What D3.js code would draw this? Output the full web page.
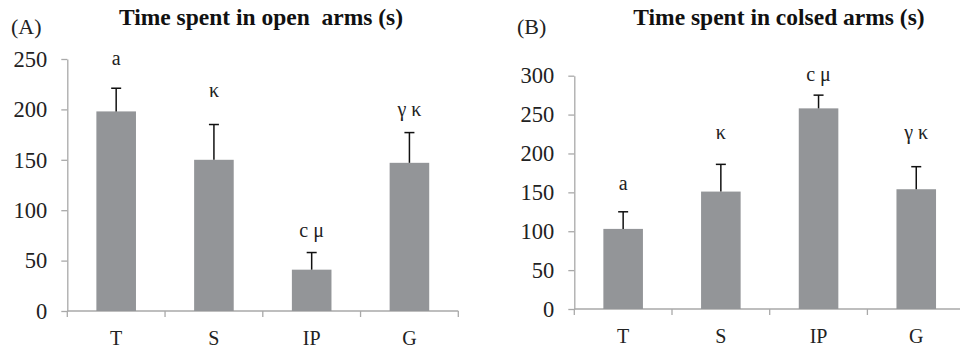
<!DOCTYPE html>
<html>
<head>
<meta charset="utf-8">
<script src="https://cdn.jsdelivr.net/npm/d3@7"></script>
<style>
  body { margin: 0; background: #fff; }
  svg { display: block; }
</style>
</head>
<body>
<svg id="chart" width="960" height="351"></svg>
<script>
// groups on the x axis
const groups = ["T", "S", "IP", "G"];

// (A) time in open arms
const openMean = [198, 150, 41, 147];
const openSd = [23, 35, 17, 30];
const openMarks = ["a", "κ", "c μ", "γ κ"];
const openMarkLevel = [244, 212, 73, 193];
const openTicks = [0, 50, 100, 150, 200, 250];

// (B) time in closed arms
const closedMean = [103, 151, 258, 154];
const closedSd = [22, 35, 17, 29];
const closedMarks = ["a", "κ", "c μ", "γ κ"];
const closedMarkLevel = [153, 218, 293, 218];
const closedTicks = [0, 50, 100, 150, 200, 250, 300];

const svg = d3.select("#chart");
const font = "'Liberation Serif'";
const axisGrey = "#a9a9a9";
const barGrey = "#939598";

function drawPanel(opt) {
  const g = svg.append("g");

  const x = d3.scaleBand().domain(groups)
    .range([opt.left, opt.left + opt.step * groups.length])
    .padding(0);
  const y = d3.scaleLinear().domain([0, opt.max]).range([opt.bottom, opt.top]);
  const bw = x.bandwidth() * 0.405;

  // y axis
  const yAxis = g.append("g")
    .attr("transform", `translate(${opt.left},0)`)
    .call(d3.axisLeft(y).tickValues(opt.ticks).tickSize(6).tickPadding(14).tickSizeOuter(0));
  yAxis.select(".domain").attr("stroke", axisGrey).attr("stroke-width", 1.3);
  yAxis.selectAll(".tick line").attr("stroke", axisGrey).attr("stroke-width", 1.3);
  yAxis.selectAll(".tick text")
    .style("font-family", font).style("font-size", "22.5px").attr("fill", "#222");

  // x axis: line with ticks at group boundaries
  g.append("line")
    .attr("x1", opt.left).attr("x2", opt.left + opt.step * groups.length)
    .attr("y1", y(0)).attr("y2", y(0))
    .attr("stroke", axisGrey).attr("stroke-width", 1.3);
  const bounds = groups.map(d => x(d)).concat([x(groups[groups.length - 1]) + x.bandwidth()]);
  g.selectAll(".xtick").data(bounds).enter().append("line")
    .attr("x1", d => d).attr("x2", d => d)
    .attr("y1", y(0)).attr("y2", y(0) + 6)
    .attr("stroke", axisGrey).attr("stroke-width", 1.3);
  g.selectAll(".xlab").data(groups).enter().append("text")
    .attr("x", d => x(d) + x.bandwidth() / 2)
    .attr("y", y(0) + 34)
    .attr("text-anchor", "middle")
    .style("font-family", font).style("font-size", "20px").attr("fill", "#222")
    .text(d => d);

  // bars
  g.selectAll(".bar").data(opt.mean).enter().append("rect")
    .attr("x", (d, i) => x(groups[i]) + x.bandwidth() / 2 - bw / 2)
    .attr("width", bw)
    .attr("y", d => y(d))
    .attr("height", d => y(0) - y(d))
    .attr("fill", barGrey);

  // error bars (upper only)
  const err = g.selectAll(".err").data(opt.mean).enter().append("g");
  err.append("line")
    .attr("x1", (d, i) => x(groups[i]) + x.bandwidth() / 2)
    .attr("x2", (d, i) => x(groups[i]) + x.bandwidth() / 2)
    .attr("y1", d => y(d))
    .attr("y2", (d, i) => y(d + opt.sd[i]))
    .attr("stroke", "#111").attr("stroke-width", 1.5);
  err.append("line")
    .attr("x1", (d, i) => x(groups[i]) + x.bandwidth() / 2 - 5)
    .attr("x2", (d, i) => x(groups[i]) + x.bandwidth() / 2 + 5)
    .attr("y1", (d, i) => y(d + opt.sd[i]))
    .attr("y2", (d, i) => y(d + opt.sd[i]))
    .attr("stroke", "#111").attr("stroke-width", 1.5);

  // significance letters
  g.selectAll(".mark").data(opt.marks).enter().append("text")
    .attr("x", (d, i) => x(groups[i]) + x.bandwidth() / 2)
    .attr("y", (d, i) => y(opt.markLevel[i]))
    .attr("text-anchor", "middle")
    .style("font-family", font).style("font-size", "20px").attr("fill", "#222")
    .style("white-space", "pre")
    .text(d => d);

  // panel letter and title
  g.append("text")
    .attr("x", opt.letterX).attr("y", 34)
    .style("font-family", font).style("font-size", "22px").attr("fill", "#222")
    .text(opt.letter);
  g.append("text")
    .attr("x", opt.titleX).attr("y", 25)
    .attr("text-anchor", "middle")
    .style("font-family", font).style("font-size", "23.5px")
    .attr("font-weight", "bold").attr("fill", "#111")
    .style("white-space", "pre")
    .text(opt.title);
}

drawPanel({
  left: 67.3, step: 97.75, top: 59, bottom: 311, max: 250,
  ticks: openTicks, mean: openMean, sd: openSd,
  marks: openMarks, markLevel: openMarkLevel,
  letter: "(A)", letterX: 11, title: "Time spent in open  arms (s)", titleX: 261
});

drawPanel({
  left: 574.3, step: 97.7, top: 75.7, bottom: 309, max: 300,
  ticks: closedTicks, mean: closedMean, sd: closedSd,
  marks: closedMarks, markLevel: closedMarkLevel,
  letter: "(B)", letterX: 517, title: "Time spent in colsed arms (s)", titleX: 779
});
</script>
</body>
</html>
